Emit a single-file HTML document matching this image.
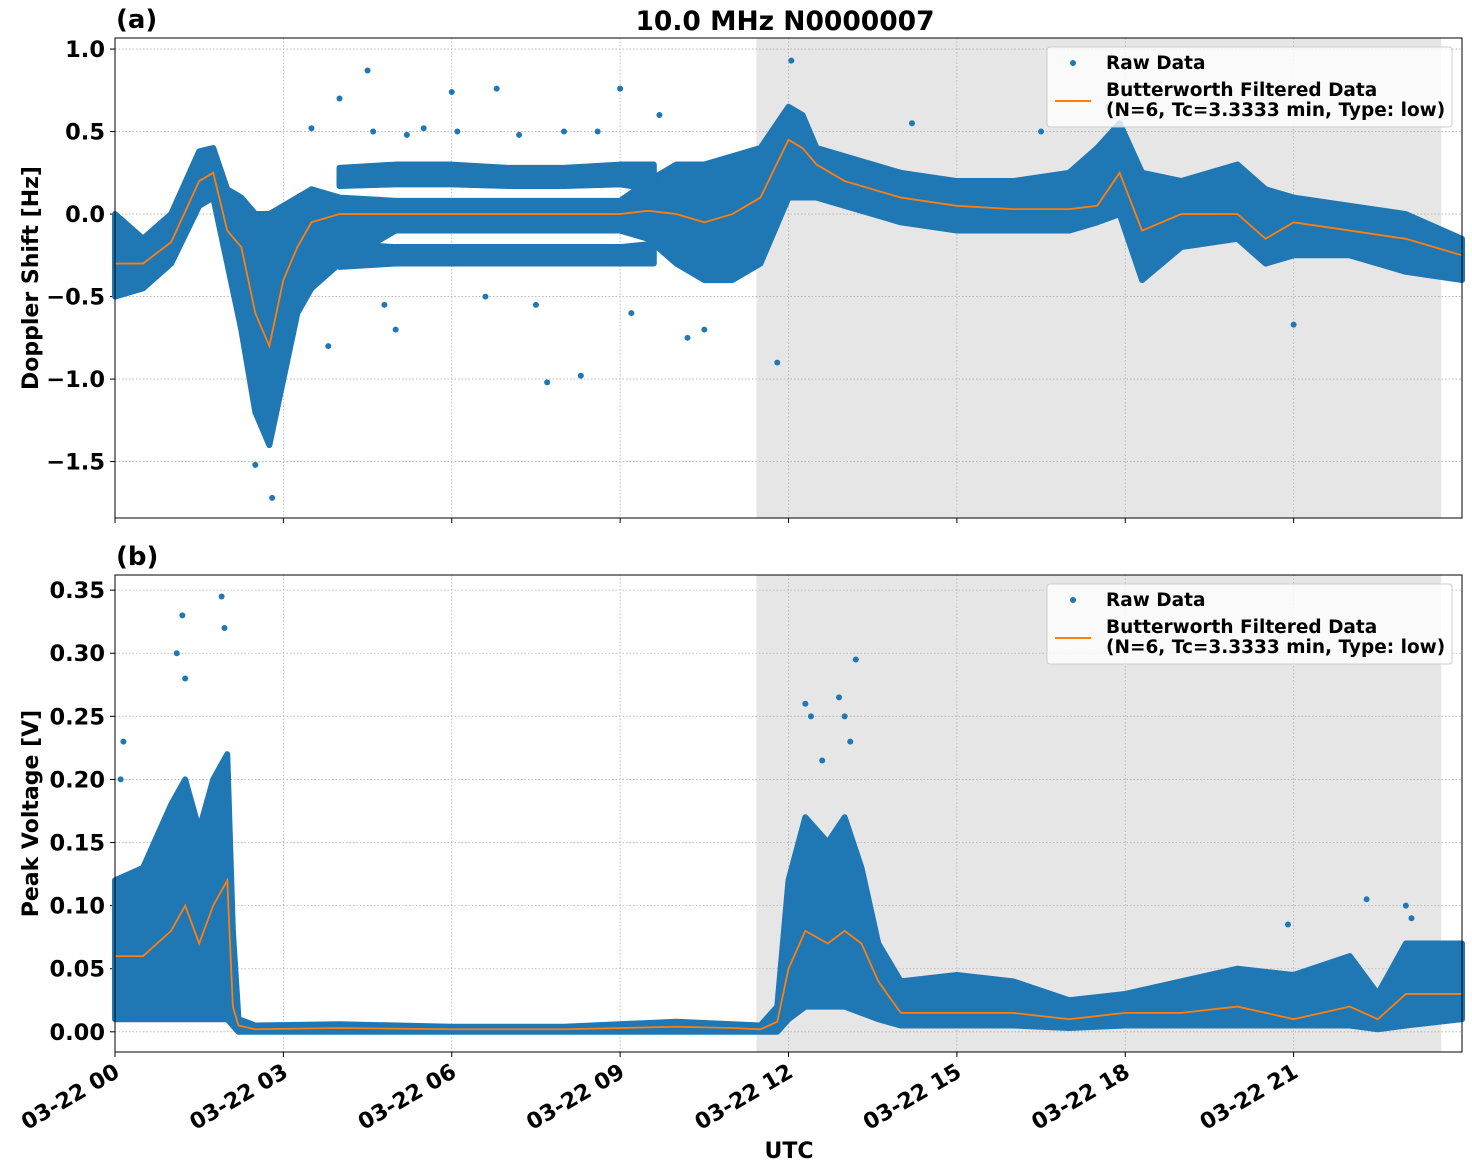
<!DOCTYPE html>
<html><head><meta charset="utf-8">
<style>
body{margin:0;background:#fff;}
svg{display:block;font-family:"DejaVu Sans","Liberation Sans",sans-serif;font-weight:bold;}
</style></head>
<body>
<svg id="chart" width="1472" height="1172" viewBox="0 0 1472 1172"></svg>
<script>
// ---------- data ----------
const timesA = [0,0.5,1.0,1.5,1.75,2.0,2.25,2.5,2.75,3.0,3.25,3.5,4.0,5,6,7,8,9,9.5,10,10.5,11,11.5,12,12.25,12.5,13,14,15,16,17,17.5,17.9,18.3,19,20,20.5,21,22,23,24];
const lowA   = [-0.5,-0.45,-0.3,0.05,0.1,-0.3,-0.7,-1.2,-1.4,-1.0,-0.6,-0.45,-0.3,-0.1,-0.1,-0.1,-0.1,-0.1,-0.15,-0.3,-0.4,-0.4,-0.3,0.1,0.1,0.1,0.05,-0.05,-0.1,-0.1,-0.1,-0.05,0.0,-0.4,-0.2,-0.15,-0.3,-0.25,-0.25,-0.35,-0.4];
const highA  = [0.0,-0.15,0.0,0.38,0.4,0.15,0.1,0.0,0.0,0.05,0.1,0.15,0.1,0.08,0.08,0.08,0.08,0.08,0.2,0.3,0.3,0.35,0.4,0.65,0.6,0.4,0.35,0.25,0.2,0.2,0.25,0.4,0.55,0.25,0.2,0.3,0.15,0.1,0.05,0.0,-0.15];
const filtA  = [-0.3,-0.3,-0.17,0.2,0.25,-0.1,-0.2,-0.6,-0.8,-0.4,-0.2,-0.05,0.0,0.0,0.0,0.0,0.0,0.0,0.02,0.0,-0.05,0.0,0.1,0.45,0.4,0.3,0.2,0.1,0.05,0.03,0.03,0.05,0.25,-0.1,0.0,0.0,-0.15,-0.05,-0.1,-0.15,-0.25];
// side tracks (4h-10h)
const timesT   = [4.0,5,6,7,8,9,9.6];
const upTrLow  = [0.17,0.18,0.18,0.17,0.17,0.18,0.15];
const upTrHigh = [0.28,0.3,0.3,0.28,0.28,0.3,0.3];
const dnTrLow  = [-0.32,-0.3,-0.3,-0.3,-0.3,-0.3,-0.3];
const dnTrHigh = [-0.18,-0.2,-0.2,-0.2,-0.2,-0.2,-0.18];
const outTA  = [4.5,2.5,2.8,6.8,9.0,12.05,5.0,7.7,8.3,21.0,6.0,3.5,4.0,5.5,8.0,10.5,11.8,14.2,16.5,17.7,4.6,5.2,6.1,7.2,8.6,9.7,4.8,6.6,7.5,9.2,3.8,10.2];
const outVA  = [0.87,-1.52,-1.72,0.76,0.76,0.93,-0.7,-1.02,-0.98,-0.67,0.74,0.52,0.7,0.52,0.5,-0.7,-0.9,0.55,0.5,0.65,0.5,0.48,0.5,0.48,0.5,0.6,-0.55,-0.5,-0.55,-0.6,-0.8,-0.75];

const timesB = [0,0.5,1.0,1.25,1.5,1.75,2.0,2.1,2.2,2.5,4,6,8,10,11.0,11.5,11.8,12.0,12.3,12.7,13.0,13.3,13.6,14,15,16,17,18,19,20,21,22,22.5,23,24];
const lowB   = [0.01,0.01,0.01,0.01,0.01,0.01,0.01,0.005,0,0,0,0,0,0,0,0,0,0.01,0.02,0.02,0.02,0.015,0.01,0.005,0.005,0.005,0.003,0.005,0.005,0.005,0.005,0.005,0.002,0.005,0.01];
const highB  = [0.12,0.13,0.18,0.2,0.16,0.2,0.22,0.08,0.01,0.005,0.006,0.004,0.004,0.008,0.006,0.005,0.02,0.12,0.17,0.15,0.17,0.13,0.07,0.04,0.045,0.04,0.025,0.03,0.04,0.05,0.045,0.06,0.03,0.07,0.07];
const filtB  = [0.06,0.06,0.08,0.1,0.07,0.1,0.12,0.02,0.005,0.002,0.003,0.002,0.002,0.004,0.003,0.002,0.008,0.05,0.08,0.07,0.08,0.07,0.04,0.015,0.015,0.015,0.01,0.015,0.015,0.02,0.01,0.02,0.01,0.03,0.03];
const outTB  = [1.2,1.9,0.15,12.3,12.9,13.2,12.6,20.9,23.0,22.3,1.1,13.0,1.95,1.25,0.1,13.1,12.4,23.1];
const outVB  = [0.33,0.345,0.23,0.26,0.265,0.295,0.215,0.085,0.1,0.105,0.3,0.25,0.32,0.28,0.2,0.23,0.25,0.09];

const xTickLabels = ["03-22 00","03-22 03","03-22 06","03-22 09","03-22 12","03-22 15","03-22 18","03-22 21"];
const xTickHours = [0,3,6,9,12,15,18,21];
const yTicksA = [1.0,0.5,0.0,-0.5,-1.0,-1.5];
const yTickLabelsA = ["1.0","0.5","0.0","\u22120.5","\u22121.0","\u22121.5"];
const yTicksB = [0,0.05,0.1,0.15,0.2,0.25,0.3,0.35];
const yTickLabelsB = ["0.00","0.05","0.10","0.15","0.20","0.25","0.30","0.35"];
const shade = [11.43,23.63];

// ---------- drawing ----------
const svg = document.getElementById('chart');
const NS = 'http://www.w3.org/2000/svg';
function el(tag, attrs, parent){const e=document.createElementNS(NS,tag);for(const k in attrs)e.setAttribute(k,attrs[k]);(parent||svg).appendChild(e);return e;}
const X0=115,X1=1462;
const xs = h => X0 + (h/24)*(X1-X0);

function bandPoly(g, ys, t, lo, hi){
  let pts=[];
  t.forEach((v,i)=>pts.push(xs(v)+','+ys(hi[i])));
  for(let i=t.length-1;i>=0;i--) pts.push(xs(t[i])+','+ys(lo[i]));
  return el('polygon',{points:pts.join(' '),fill:'#1f77b4',stroke:'#1f77b4','stroke-width':6,'stroke-linejoin':'round'},g);
}

function panel(cfg){
  const {top,bot,ymin,ymax,ticks,tickLabels,times,low,high,filt,outT,outV,label,ylabel,showX,id,tracks}=cfg;
  const ys = v => bot - (v-ymin)/(ymax-ymin)*(bot-top);
  const g = el('g',{});
  
  
  const sh = el('rect',{x:xs(shade[0]),y:top,width:xs(shade[1])-xs(shade[0]),height:bot-top,fill:'#e6e6e6'},g);
  
  
  xTickHours.forEach(h=>{ el('line',{x1:xs(h),x2:xs(h),y1:top,y2:bot,stroke:'#b0b0b0','stroke-width':0.8,'stroke-dasharray':'1.5,2'},g);
    el('line',{x1:xs(h),x2:xs(h),y1:bot,y2:bot+5,stroke:'#000','stroke-width':1},g);});
  ticks.forEach((t,i)=>{ const y=ys(t);
    el('line',{x1:X0,x2:X1,y1:y,y2:y,stroke:'#b0b0b0','stroke-width':0.8,'stroke-dasharray':'1.5,2'},g);
    el('line',{x1:X0-5,x2:X0,y1:y,y2:y,stroke:'#000','stroke-width':1},g);
    const tl=el('text',{x:X0-10,y:y+8,'text-anchor':'end','font-size':22.5},g); tl.textContent=tickLabels[i];
    
    
  });
  const band=bandPoly(g, ys, times, low, high);
  
  
  if(tracks){
    const b1=bandPoly(g, ys, timesT, upTrLow, upTrHigh);
    
    
    const b2=bandPoly(g, ys, timesT, dnTrLow, dnTrHigh);
    
    
  }
  outT.forEach((t,i)=>{ const c=el('circle',{cx:xs(t),cy:ys(outV[i]),r:3,fill:'#1f77b4'},g);
    
    });
  const fl=el('polyline',{points:times.map((t,i)=>xs(t)+','+ys(filt[i])).join(' '),fill:'none',stroke:'#ff7f0e','stroke-width':1.8},g);
  
  
  el('rect',{x:X0,y:top,width:X1-X0,height:bot-top,fill:'none',stroke:'#000','stroke-width':1},g);
  const pl=el('text',{x:116,y:top-10,'font-size':26},g); pl.textContent=label;
  
  
  const yl=el('text',{x:0,y:0,'font-size':22,'text-anchor':'middle',transform:`translate(38,${(top+bot)/2}) rotate(-90)`},g); yl.textContent=ylabel;
  
  
  const lg=el('g',{},g);
  
  
  el('rect',{x:1047,y:top+9,width:405,height:80,rx:3,fill:'#fff','fill-opacity':0.8,stroke:'#ccc'},lg);
  el('circle',{cx:1073,cy:top+25,r:3,fill:'#1f77b4'},lg);
  const t1=el('text',{x:1106,y:top+31,'font-size':18.5},lg); t1.textContent='Raw Data';
  el('line',{x1:1055,x2:1091,y1:top+63,y2:top+63,stroke:'#ff7f0e','stroke-width':2},lg);
  const t2=el('text',{x:1106,y:top+58,'font-size':18.5},lg); t2.textContent='Butterworth Filtered Data';
  const t3=el('text',{x:1106,y:top+78,'font-size':18.5},lg); t3.textContent='(N=6, Tc=3.3333 min, Type: low)';
  if(showX){
    xTickHours.forEach((h,i)=>{ const t=el('text',{x:0,y:0,'font-size':22,'text-anchor':'end',transform:`translate(${xs(h)+6},${bot+24}) rotate(-30)`},g);
      t.textContent=xTickLabels[i];
      
      });
    const ux=el('text',{x:789,y:1158,'font-size':22,'text-anchor':'middle'},g); ux.textContent='UTC';
    
    
  }
}
const title=el('text',{x:785,y:30,'font-size':26.5,'text-anchor':'middle'});
title.textContent='10.0 MHz N0000007';


panel({id:'doppler',top:38,bot:518,ymin:-1.842,ymax:1.067,ticks:yTicksA,tickLabels:yTickLabelsA,times:timesA,low:lowA,high:highA,filt:filtA,outT:outTA,outV:outVA,label:'(a)',ylabel:'Doppler Shift [Hz]',showX:false,tracks:true});
panel({id:'voltage',top:575,bot:1052,ymin:-0.016,ymax:0.362,ticks:yTicksB,tickLabels:yTickLabelsB,times:timesB,low:lowB,high:highB,filt:filtB,outT:outTB,outV:outVB,label:'(b)',ylabel:'Peak Voltage [V]',showX:true,tracks:false});
</script>
</body></html>
